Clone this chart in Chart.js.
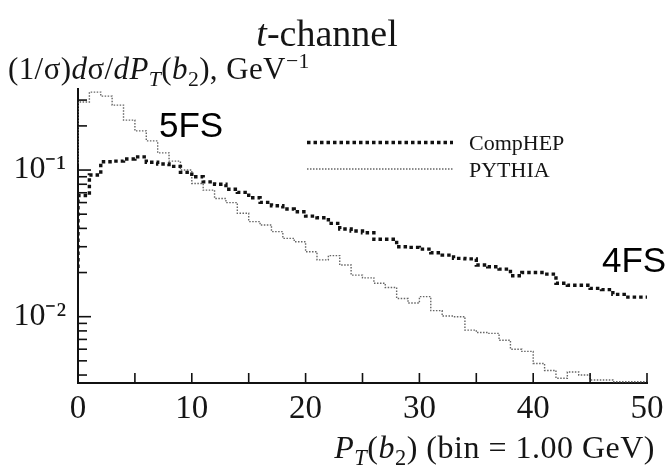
<!DOCTYPE html>
<html><head><meta charset="utf-8">
<script src="https://cdn.jsdelivr.net/npm/chart.js@4/dist/chart.umd.min.js"></script>
<style>
html,body{margin:0;padding:0;background:#fff;}
#wrap{position:relative;width:671px;height:465px;overflow:hidden;background:#fff;}
#wrap canvas{position:absolute;left:0;top:0;}
.t{position:absolute;font-family:'Liberation Serif',serif;color:#151515;line-height:1;white-space:nowrap;}
.t sub,.t sup{line-height:0;font-size:70%;}
.s{position:absolute;font-family:'Liberation Sans',Arial,sans-serif;color:#000;line-height:1;white-space:nowrap;}
</style></head><body>
<div id="wrap">
<canvas id="c" width="671" height="465"></canvas>
<div class="t" style="left:0;width:654px;text-align:center;top:14px;font-size:38px;"><i>t</i>-channel</div>
<div class="t" style="left:8px;top:53px;font-size:31px;letter-spacing:0.4px;">(1/σ)<i>d</i>σ/<i>dP</i><sub><i>T</i></sub>(<i>b</i><sub>2</sub>), GeV<sup>−1</sup></div>
<div class="t" style="right:16px;top:431px;font-size:32px;letter-spacing:0.5px;"><i>P</i><sub><i>T</i></sub>(<i>b</i><sub>2</sub>) (bin = 1.00 GeV)</div>
<div class="s" style="left:159px;top:107px;font-size:35px;">5FS</div>
<div class="s" style="left:602px;top:242px;font-size:35px;">4FS</div>
</div>
<script>
const binWidth = 1;
const binStart = [0,1,2,3,4,5,6,7,8,9,10,11,12,13,14,15,16,17,18,19,20,21,22,23,24,25,26,27,28,29,30,31,32,33,34,35,36,37,38,39,40,41,42,43,44,45,46,47,48,49];
const compHEP = [0.0215,0.067,0.0925,0.114,0.115,0.119,0.123,0.113,0.110,0.106,
                 0.0964,0.090,0.083,0.080,0.074,0.0704,0.0647,0.0602,0.0571,0.0542,
                 0.052,0.0485,0.0473,0.0433,0.0396,0.0384,0.0374,0.0337,0.0337,0.030,
                 0.0297,0.0289,0.0273,0.0263,0.025,0.0248,0.0225,0.0219,0.0211,0.019,
                 0.0200,0.0200,0.0195,0.0169,0.0164,0.0164,0.0156,0.0153,0.0142,0.0136];
const pythia = [0.111,0.291,0.340,0.319,0.277,0.219,0.185,0.158,0.131,0.115,
                0.100,0.081,0.073,0.064,0.060,0.0507,0.0445,0.0422,0.038,0.0342,
                0.0324,0.0277,0.0244,0.0261,0.0225,0.0192,0.0184,0.0169,0.0158,0.0133,
                0.0124,0.0137,0.0110,0.0101,0.0100,0.0081,0.0078,0.0077,0.0069,0.0060,
                0.0058,0.0048,0.0043,0.0038,0.0042,0.0040,0.0037,0.0037,0.0036,0.0036];
const seriesNames = ['CompHEP','PYTHIA'];
const xTickValues = [0,10,20,30,40,50];
const xMinorTickValues = [5,15,25,35,45];
const yMajorTickValues = [0.1,0.01];
const yTickLabels = ['10⁻¹','10⁻²'];
const yMinorTickValues = [0.3,0.2,0.09,0.08,0.07,0.06,0.05,0.04,0.03,0.02,0.009,0.008,0.007,0.006,0.005,0.004];

function toSteps(values){
  const pts = values.map((v,i)=>({x:binStart[i], y:v}));
  pts.push({x:binStart[values.length-1]+binWidth, y:values[values.length-1]});
  return pts;
}

const serif = "'Liberation Serif', 'Times New Roman', serif";

const axisTicks = {
  id:'axisTicks',
  afterDatasetsDraw(chart){
    const {ctx, scales:{x,y}, chartArea:a} = chart;
    ctx.save();
    ctx.strokeStyle='#111'; ctx.lineWidth=1.6; ctx.setLineDash([]); ctx.lineCap='butt';
    xTickValues.concat(xMinorTickValues).forEach(v=>{
      const px=x.getPixelForValue(v);
      ctx.beginPath(); ctx.moveTo(px,a.bottom); ctx.lineTo(px,a.bottom-10); ctx.stroke();
    });
    yMajorTickValues.forEach(v=>{
      const py=y.getPixelForValue(v);
      ctx.beginPath(); ctx.moveTo(a.left,py); ctx.lineTo(a.left+13,py); ctx.stroke();
    });
    yMinorTickValues.forEach(v=>{
      const py=y.getPixelForValue(v);
      ctx.beginPath(); ctx.moveTo(a.left,py); ctx.lineTo(a.left+9,py); ctx.stroke();
    });
    // legend
    const ly=[142.5,169], ty=[150,177];
    chart.data.datasets.forEach((ds,i)=>{
      ctx.strokeStyle=ds.borderColor; ctx.lineWidth=ds.borderWidth; ctx.setLineDash(ds.borderDash);
      ctx.beginPath(); ctx.moveTo(307,ly[i]); ctx.lineTo(453,ly[i]); ctx.stroke();
      ctx.setLineDash([]);
      ctx.fillStyle='#151515'; ctx.font="22px "+serif; ctx.textBaseline='alphabetic'; ctx.textAlign='left';
      ctx.fillText(ds.label,469,ty[i]);
    });
    ctx.restore();
  }
};

new Chart(document.getElementById('c'),{
  type:'line',
  data:{datasets:[
    {label:seriesNames[0], data:toSteps(compHEP), stepped:'after', borderColor:'#111', borderWidth:3.4, borderDash:[3.5,3], borderCapStyle:'butt', pointRadius:0, fill:false},
    {label:seriesNames[1], data:toSteps(pythia), stepped:'after', borderColor:'#666', borderWidth:1.4, borderDash:[1.5,1.5], borderCapStyle:'butt', pointRadius:0, fill:false}
  ]},
  options:{
    responsive:false, animation:false, devicePixelRatio:1,
    layout:{padding:{left:0,top:89,right:24,bottom:0}},
    plugins:{legend:{display:false}, tooltip:{enabled:false}},
    scales:{
      x:{type:'linear', min:0, max:50,
        grid:{display:false, drawTicks:false},
        border:{display:true, color:'#111', width:2},
        afterBuildTicks:s=>{s.ticks = xTickValues.map(v=>({value:v}));},
        afterFit:s=>{s.height=82; s.paddingLeft=0; s.paddingRight=0;},
        ticks:{font:{family:serif, size:33}, color:'#151515', padding:7, maxRotation:0, autoSkip:false}
      },
      y:{type:'logarithmic', min:0.00353, max:0.357,
        grid:{display:false, drawTicks:false},
        border:{display:true, color:'#111', width:2},
        afterBuildTicks:s=>{s.ticks = yMajorTickValues.map(v=>({value:v}));},
        afterFit:s=>{s.width=78; s.paddingTop=0; s.paddingBottom=0;},
        ticks:{font:{family:serif, size:32}, color:'#151515', padding:12, autoSkip:false,
          callback:(v)=>{const i=yMajorTickValues.findIndex(t=>Math.abs(t-v)/t<1e-6); return i>=0?yTickLabels[i]:'';}}
      }
    }
  },
  plugins:[axisTicks]
});
</script>
</body></html>
